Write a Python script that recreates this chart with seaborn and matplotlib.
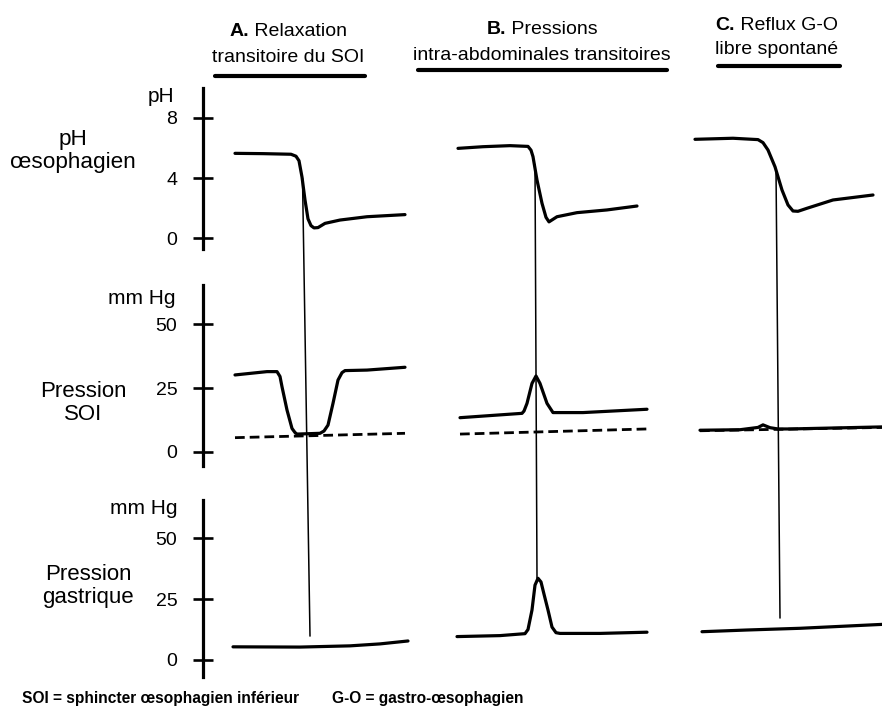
import matplotlib
matplotlib.use("Agg")
import matplotlib.pyplot as plt
from matplotlib.patches import ConnectionPatch
from matplotlib.lines import Line2D
import seaborn as sns

# ---- data (time in arbitrary units) ----
# oesophageal pH
ph_time_a = [3.2, 6.0, 8.8, 9.3, 9.6, 9.9, 10.2, 10.5, 10.8, 11.1, 11.5, 12.2, 13.7, 16.4, 20.2]
ph_a = [5.64, 5.62, 5.58, 5.45, 5.15, 4.07, 2.55, 1.3, 0.85, 0.7, 0.72, 1.0, 1.22, 1.44, 1.58]
ph_time_b = [25.5, 28.0, 30.7, 32.5, 32.8, 33.0, 33.4, 33.9, 34.3, 34.6, 35.4, 37.4, 40.4, 43.4]
ph_b = [5.97, 6.08, 6.15, 6.1, 5.85, 5.42, 3.87, 2.33, 1.4, 1.1, 1.44, 1.71, 1.89, 2.15]
ph_time_c = [49.2, 53.0, 55.5, 56.0, 56.5, 57.2, 57.9, 58.5, 59.0, 59.5, 60.4, 63.0, 67.0]
ph_c = [6.57, 6.64, 6.55, 6.35, 5.86, 4.75, 3.21, 2.22, 1.82, 1.8, 2.0, 2.55, 2.88]

# LES (SOI) pressure, mmHg
soi_time_a = [3.2, 6.4, 7.4, 7.7, 7.9, 8.4, 8.9, 9.2, 9.4, 11.7, 12.1, 12.5, 13.0, 13.5, 13.9, 14.2, 16.4, 20.2]
soi_a = [30.1, 31.4, 31.4, 29.5, 25.5, 16.4, 9.2, 7.6, 7.0, 7.3, 8.2, 10.5, 19.0, 28.1, 31.0, 31.8, 32.0, 33.1]
soi_time_b = [25.7, 29.7, 31.9, 32.1, 32.4, 32.9, 33.3, 33.7, 34.4, 35.0, 38.0, 44.4]
soi_b = [13.4, 14.5, 15.1, 16.0, 19.0, 26.8, 29.7, 26.8, 19.0, 15.4, 15.4, 16.7]
soi_time_c = [49.7, 53.7, 55.5, 56.0, 56.7, 57.5, 58.7, 67.9]
soi_c = [8.5, 8.7, 9.6, 10.6, 9.5, 9.0, 9.0, 9.8]

# gastric pressure baseline (dashed) in the SOI panel
base_time_a, base_a = [3.2, 20.2], [5.6, 7.3]
base_time_b, base_b = [25.7, 44.4], [7.0, 9.0]
base_time_c, base_c = [49.7, 67.9], [8.3, 9.6]

# gastric pressure, mmHg
gas_time_a = [3.0, 9.7, 14.7, 17.7, 20.5]
gas_a = [5.4, 5.3, 5.8, 6.6, 7.8]
gas_time_b = [25.4, 29.7, 32.2, 32.5, 32.9, 33.2, 33.5, 33.8, 34.1, 34.5, 34.9, 35.3, 35.7, 39.7, 44.4]
gas_b = [9.6, 10.0, 10.8, 12.5, 20.5, 30.7, 33.5, 32.0, 27.0, 20.5, 13.5, 11.2, 10.9, 10.9, 11.4]
gas_time_c = [49.9, 54.4, 59.7, 67.9]
gas_c = [11.6, 12.3, 13.0, 14.6]

# reflux markers: from the pH drop down to the gastric panel
mark_top_time = [9.95, 33.2, 57.3]
mark_top_ph = [4.0, 4.9, 4.6]
mark_bot_time = [10.7, 33.4, 57.7]
mark_bot_mmhg = [9.8, 33.5, 17.2]

ph_ticks = [0, 4, 8]
mmhg_ticks = [0, 25, 50]

title_letters = ["A.", "B.", "C."]
title_words = ["Relaxation", "Pressions", "Reflux G-O"]
title_lines2 = ["transitoire du SOI", "intra-abdominales transitoires", "libre spontané"]

# ---- figure ----
sns.set_theme(style="white")
plt.rcParams["font.family"] = ["Liberation Sans", "DejaVu Sans"]
plt.rcParams["text.color"] = "black"

W, H = 882, 713
fig = plt.figure(figsize=(W / 100, H / 100), dpi=100)
fig.patch.set_facecolor("white")


def px_axes(top, bottom):
    return fig.add_axes([203 / W, 1 - bottom / H, (W - 203) / W, (bottom - top) / H])


def fig_text(x, y, s, **kw):
    return fig.text(x / W, 1 - y / H, s, color="black", **kw)


ax_ph = px_axes(80, 270)
ax_soi = px_axes(270, 480)
ax_gas = px_axes(480, 690)

ax_ph.set_ylim(-2.09, 10.5)
ax_soi.set_ylim(-10.94, 71.1)
ax_gas.set_ylim(-12.3, 73.8)

spine_bounds = {ax_ph: (-0.7, 9.97), ax_soi: (-5.5, 65.2), ax_gas: (-7.0, 65.6)}

for ax in (ax_ph, ax_soi, ax_gas):
    ax.set_xlim(0, 67.9)
    ax.set_facecolor("none")
    ax.grid(False)
    for side in ("top", "right", "bottom"):
        ax.spines[side].set_visible(False)
    ax.spines["left"].set_color("black")
    ax.spines["left"].set_linewidth(2.3)
    ax.spines["left"].set_bounds(*spine_bounds[ax])
    ax.set_xticks([])
    ax.tick_params(axis="y", direction="inout", length=15, width=1.9,
                   pad=11, labelsize=14, colors="black", left=True)

ax_ph.set_yticks(ph_ticks)
ax_soi.set_yticks(mmhg_ticks)
ax_gas.set_yticks(mmhg_ticks)

kw = dict(color="black", linewidth=2.3, estimator=None)
sns.lineplot(x=ph_time_a, y=ph_a, ax=ax_ph, **kw)
sns.lineplot(x=ph_time_b, y=ph_b, ax=ax_ph, **kw)
sns.lineplot(x=ph_time_c, y=ph_c, ax=ax_ph, **kw)

sns.lineplot(x=soi_time_a, y=soi_a, ax=ax_soi, **kw)
sns.lineplot(x=soi_time_b, y=soi_b, ax=ax_soi, **kw)
sns.lineplot(x=soi_time_c, y=soi_c, ax=ax_soi, **kw)

dkw = dict(color="black", linewidth=2.0, estimator=None, linestyle=(0, (3.5, 1.8)))
sns.lineplot(x=base_time_a, y=base_a, ax=ax_soi, **dkw)
sns.lineplot(x=base_time_b, y=base_b, ax=ax_soi, **dkw)
sns.lineplot(x=base_time_c, y=base_c, ax=ax_soi, **dkw)

sns.lineplot(x=gas_time_a, y=gas_a, ax=ax_gas, **kw)
sns.lineplot(x=gas_time_b, y=gas_b, ax=ax_gas, **kw)
sns.lineplot(x=gas_time_c, y=gas_c, ax=ax_gas, **kw)

for ax in (ax_ph, ax_soi, ax_gas):
    ax.set_xlabel("")
    ax.set_ylabel("")

for t0, p0, t1, m1 in zip(mark_top_time, mark_top_ph, mark_bot_time, mark_bot_mmhg):
    con = ConnectionPatch(xyA=(t0, p0), coordsA=ax_ph.transData,
                          xyB=(t1, m1), coordsB=ax_gas.transData,
                          color="black", linewidth=1.1)
    fig.add_artist(con)

# unit labels and row labels
fig_text(174, 97, "pH", fontsize=15, ha="right", va="center")
fig_text(176, 298, "mm Hg", fontsize=15, ha="right", va="center")
fig_text(178, 508, "mm Hg", fontsize=15, ha="right", va="center")

fig_text(73, 151, "pH\nœsophagien", fontsize=16.2, ha="center", va="center", linespacing=1.1)
fig_text(83, 403, "Pression\nSOI", fontsize=16, ha="center", va="center", linespacing=1.1)
fig_text(88, 586, "Pression\ngastrique", fontsize=16, ha="center", va="center", linespacing=1.1)

# panel titles: bold letter + regular word on line 1, subtitle on line 2
title_centres = [288, 542, 777]
title_rows = [(31, 57), (30, 55), (26, 50)]
renderer = fig.canvas.get_renderer()
for letter, word, line2, cx, (y1, y2) in zip(title_letters, title_words, title_lines2,
                                             title_centres, title_rows):
    t_l = fig_text(cx, y1, letter, fontsize=14, fontweight="bold", ha="left", va="center")
    t_w = fig_text(cx, y1, " " + word, fontsize=14, ha="left", va="center")
    wl = t_l.get_window_extent(renderer).width
    ww = t_w.get_window_extent(renderer).width
    x0 = cx - (wl + ww) / 2
    t_l.set_x(x0 / W)
    t_w.set_x((x0 + wl) / W)
    fig_text(cx, y2, line2, fontsize=14, ha="center", va="center")

underlines = [(215, 365, 76), (418, 667, 70), (718, 840, 66)]
for x0, x1, y in underlines:
    fig.add_artist(Line2D([x0 / W, x1 / W], [1 - y / H, 1 - y / H],
                          transform=fig.transFigure, color="black", linewidth=3.0,
                          solid_capstyle="round"))

fig_text(22, 699, "SOI = sphincter œsophagien inférieur", fontsize=11.2,
         fontweight="bold", ha="left", va="center")
fig_text(332, 699, "G-O = gastro-œsophagien", fontsize=11.2,
         fontweight="bold", ha="left", va="center")

fig.savefig("out.png", dpi=100, facecolor="white")
